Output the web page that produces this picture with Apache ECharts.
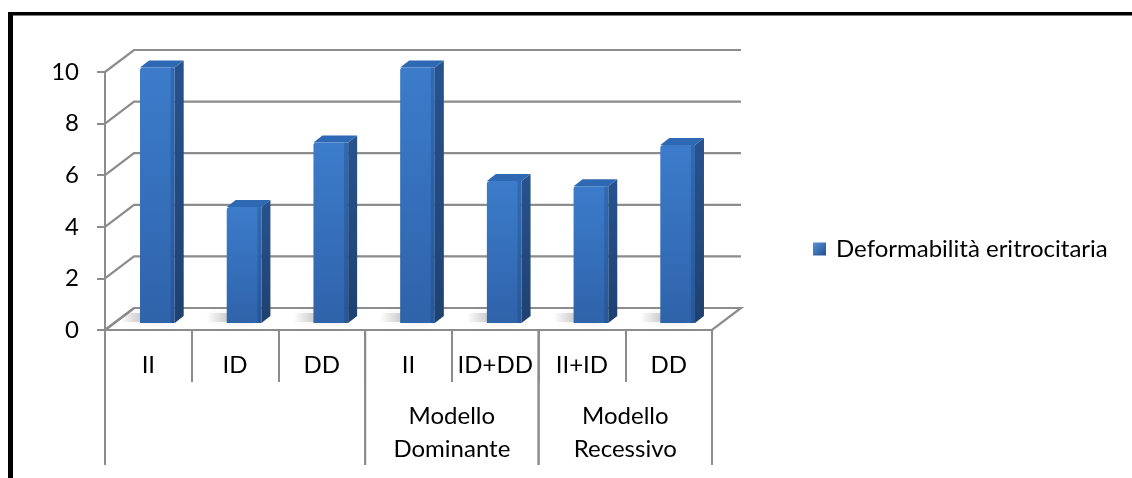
<!DOCTYPE html>
<html>
<head>
<meta charset="utf-8">
<title>Deformabilità eritrocitaria</title>
<script src="https://cdn.jsdelivr.net/npm/echarts@6/dist/echarts.min.js"></script>
<style>
  html, body { margin: 0; padding: 0; background: #fff; }
  #chart { width: 1132px; height: 478px; }
</style>
</head>
<body>
<div id="chart"></div>
<script>
// Genotype categories and measured values
const categories = ['II', 'ID', 'DD', 'II', 'ID+DD', 'II+ID', 'DD'];
const values = [9.9, 4.5, 7.0, 9.9, 5.5, 5.3, 6.9];

// Second-level grouping of the categories (index ranges)
const groupLabels = ['', 'Modello\nDominante', 'Modello\nRecessivo'];
const groupStart = [0, 3, 5];
const groupEnd = [2, 4, 6];

// Value axis ticks
const yTicks = [0, 2, 4, 6, 8, 10];

const seriesName = 'Deformabilità eritrocitaria';

const FONT = 'Lato';
const FONT_SIZE = 24;
const GRID_COLOR = '#8c8c8c';

// Perspective offsets of the 3-D walls and boxes
const WALL_DX = 29, WALL_DY = 22;     // depth of the floor / side wall
const BAR_DX = 9, BAR_DY = 7;         // bar front face position in depth
const BAR_DEPTH_X = 9, BAR_DEPTH_Y = 7;
const BAR_WIDTH_RATIO = 0.40;

const chart = echarts.init(document.getElementById('chart'), null, { renderer: 'canvas' });

// Back wall grid lines, side wall diagonals and floor edge
function renderWall(params, api) {
  const cs = params.coordSys;
  const v = api.value(1);
  const y = api.coord([0, v])[1];
  const x0 = cs.x, x1 = cs.x + cs.width;
  const style = { stroke: GRID_COLOR, lineWidth: 2.2, fill: null };
  const children = [{
    type: 'polyline',
    shape: { points: [[x0, y], [x0 + WALL_DX, y - WALL_DY], [x1 + WALL_DX, y - WALL_DY]] },
    style: style
  }];
  if (v === 0) {
    children.push({
      type: 'polygon',
      shape: { points: [[x0, y], [x0 + WALL_DX, y - WALL_DY], [x1 + WALL_DX, y - WALL_DY], [x1, y]] },
      style: { fill: '#ffffff', stroke: GRID_COLOR, lineWidth: 2.2 },
      z2: -1
    });
  }
  return { type: 'group', children: children };
}

// 3-D column: floor shadow, front face, side face and top face
function renderBar(params, api) {
  const idx = api.value(0);
  const v = api.value(1);
  const band = api.size([1, 0])[0];
  const w = band * BAR_WIDTH_RATIO;
  const cx = api.coord([idx, 0])[0] + BAR_DX;
  const base = api.coord([idx, 0])[1] - BAR_DY;
  const top = api.coord([idx, v])[1] - BAR_DY;
  const xl = cx - w / 2, xr = cx + w / 2;
  const dx = BAR_DEPTH_X, dy = BAR_DEPTH_Y;
  return {
    type: 'group',
    children: [
      {
        type: 'rect',
        shape: { x: xl - 20, y: base - 10, width: w + 14, height: 9 },
        style: {
          fill: new echarts.graphic.LinearGradient(0, 0, 1, 0, [
            { offset: 0, color: 'rgba(90,90,90,0)' },
            { offset: 0.6, color: 'rgba(90,90,90,0.35)' },
            { offset: 1, color: 'rgba(90,90,90,0.5)' }
          ]),
          shadowBlur: 8,
          shadowColor: 'rgba(90,90,90,0.5)'
        }
      },
      {
        type: 'polygon',
        shape: { points: [[xr, top], [xr + dx, top - dy], [xr + dx, base - dy], [xr, base]] },
        style: {
          fill: new echarts.graphic.LinearGradient(0, 0, 0, 1, [
            { offset: 0, color: '#28538f' },
            { offset: 1, color: '#1f416f' }
          ])
        }
      },
      {
        type: 'polygon',
        shape: { points: [[xl, top], [xl + dx, top - dy], [xr + dx, top - dy], [xr, top]] },
        style: { fill: '#2f69b3' }
      },
      {
        type: 'rect',
        shape: { x: xl, y: top, width: w, height: base - top, r: [3, 1, 0, 0] },
        style: {
          fill: new echarts.graphic.LinearGradient(0, 0, 0, 1, [
            { offset: 0, color: '#3c7ccb' },
            { offset: 1, color: '#2f63aa' }
          ])
        }
      },
      {
        type: 'rect',
        shape: { x: xr - 4, y: top, width: 4, height: base - top },
        style: { fill: 'rgba(20,50,100,0.25)' }
      }
    ]
  };
}

// Group dividers and second-level labels below the category axis
function renderGroups(params, api) {
  const i = params.dataIndex;
  const band = api.size([1, 0])[0];
  const left = api.coord([api.value(0), 0])[0] - band / 2;
  const right = api.coord([api.value(1), 0])[0] + band / 2;
  const y0 = api.coord([0, 0])[1];
  const lineStyle = { stroke: GRID_COLOR, lineWidth: 2 };
  return {
    type: 'group',
    children: [
      { type: 'line', shape: { x1: left, y1: y0, x2: left, y2: y0 + 135 }, style: lineStyle },
      { type: 'line', shape: { x1: right, y1: y0, x2: right, y2: y0 + 135 }, style: lineStyle },
      {
        type: 'text',
        style: {
          text: groupLabels[i],
          x: (left + right) / 2,
          y: y0 + 103,
          align: 'center',
          verticalAlign: 'middle',
          lineHeight: 33,
          font: FONT_SIZE + 'px ' + FONT,
          fill: '#000'
        }
      }
    ]
  };
}

const option = {
  backgroundColor: '#ffffff',
  animation: false,
  textStyle: { fontFamily: FONT },
  graphic: [
    { type: 'rect', shape: { x: 8, y: 12, width: 5, height: 480 }, style: { fill: '#000' }, z: 100 },
    { type: 'rect', shape: { x: 8, y: 12, width: 1140, height: 3.4 }, style: { fill: '#000' }, z: 100 }
  ],
  legend: {
    data: [{ name: seriesName, icon: 'rect' }],
    left: 813,
    top: 237,
    padding: 0,
    itemWidth: 13,
    itemHeight: 13,
    textStyle: { fontFamily: FONT, fontSize: FONT_SIZE, color: '#000', padding: [0, 0, 0, 5] }
  },
  grid: {
    left: 105,
    right: 420,
    top: 72,
    bottom: 148,
    containLabel: false,
    outerBoundsMode: 'none'
  },
  xAxis: {
    type: 'category',
    data: categories,
    axisLine: { show: true, lineStyle: { color: GRID_COLOR, width: 2 } },
    axisTick: { show: true, interval: 0, length: 52, lineStyle: { color: GRID_COLOR, width: 2 } },
    axisLabel: { interval: 0, margin: 23, fontFamily: FONT, fontSize: FONT_SIZE, color: '#000' },
    splitLine: { show: false }
  },
  yAxis: {
    type: 'value',
    min: 0,
    max: 10,
    interval: 2,
    axisLine: { show: true, lineStyle: { color: GRID_COLOR, width: 2 } },
    axisTick: { show: true, length: 8, lineStyle: { color: GRID_COLOR, width: 2 } },
    axisLabel: { margin: 26, fontFamily: FONT, fontSize: FONT_SIZE, color: '#000' },
    splitLine: { show: false }
  },
  series: [
    {
      type: 'custom',
      renderItem: renderWall,
      data: yTicks.map(function (v) { return [0, v]; }),
      encode: { x: 0, y: 1 },
      z: 1,
      silent: true
    },
    {
      type: 'custom',
      renderItem: renderGroups,
      data: groupStart.map(function (s, i) { return [s, groupEnd[i]]; }),
      encode: { x: 0, y: 1 },
      z: 1,
      silent: true
    },
    {
      name: seriesName,
      type: 'custom',
      renderItem: renderBar,
      data: values.map(function (v, i) { return [i, v]; }),
      encode: { x: 0, y: 1 },
      itemStyle: {
        color: new echarts.graphic.LinearGradient(0, 0, 1, 1, [
          { offset: 0, color: '#5a93dc' },
          { offset: 1, color: '#1f4f8f' }
        ])
      },
      z: 3
    }
  ]
};

chart.setOption(option);
</script>
</body>
</html>
